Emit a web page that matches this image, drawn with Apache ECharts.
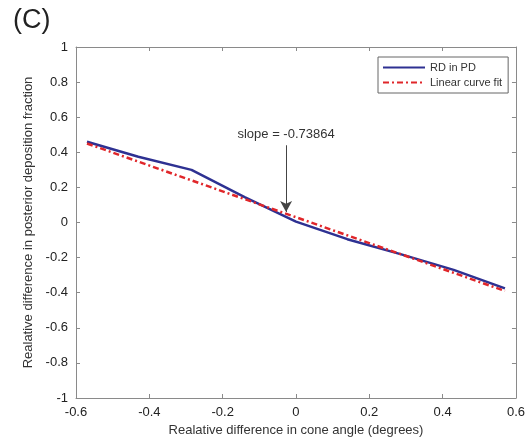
<!DOCTYPE html>
<html>
<head>
<meta charset="utf-8">
<script src="https://cdn.jsdelivr.net/npm/echarts@6/dist/echarts.min.js"></script>
<style>
  html, body { margin: 0; padding: 0; background: #fff; }
  #chart { width: 528px; height: 442px; }
</style>
</head>
<body>
<div id="chart"></div>
<script>
// values
const rdX = [-0.57, -0.43, -0.285, -0.14, 0, 0.14, 0.285, 0.43, 0.57];
const rdY = [0.46, 0.375, 0.3, 0.145, 0.005, -0.095, -0.18, -0.27, -0.375];
const fitX = [-0.57, 0.57];
const fitY = [0.45, -0.39];
const slopeLabel = 'slope = -0.73864';
const arrowFrom = [-0.027, 0.44];
const arrowTo = [-0.027, 0.06];

const zip = (xs, ys) => xs.map((x, i) => [x, ys[i]]);

const font = 'Liberation Sans, Arial, sans-serif';
const axisGrey = '#8a8a8a';

const chart = echarts.init(document.getElementById('chart'));

const baseAxis = {
    axisLine: { show: true, onZero: false, lineStyle: { color: axisGrey, width: 1 } },
    axisTick: { show: true, inside: true, length: 4, lineStyle: { color: axisGrey } },
    splitLine: { show: false },
};

chart.setOption({
    animation: false,
    title: {
        text: '(C)',
        left: 8,
        top: 2,
        textStyle: { fontFamily: font, fontSize: 27, fontWeight: 'normal', color: '#222' }
    },
    grid: { left: 76, right: 8, top: 47, bottom: 43 },
    legend: {
        orient: 'vertical',
        left: 378,
        top: 57,
        padding: [5, 6, 5, 4],
        itemGap: 4,
        itemWidth: 42,
        itemHeight: 10,
        backgroundColor: '#fff',
        borderColor: '#666',
        borderWidth: 1,
        borderRadius: 0,
        itemStyle: { opacity: 0 },
        textStyle: { fontFamily: font, fontSize: 11, color: '#333' },
        data: ['RD in PD', 'Linear curve fit']
    },
    xAxis: [
        Object.assign({}, baseAxis, {
            type: 'value',
            min: -0.6,
            max: 0.6,
            interval: 0.2,
            name: 'Realative difference in cone angle (degrees)',
            nameLocation: 'middle',
            nameGap: 26,
            nameTextStyle: { fontFamily: font, fontSize: 13, color: '#333' },
            axisLabel: { fontFamily: font, fontSize: 13, color: '#222', margin: 8 }
        }),
        Object.assign({}, baseAxis, {
            type: 'value',
            position: 'top',
            min: -0.6,
            max: 0.6,
            interval: 0.2,
            axisLabel: { show: false }
        })
    ],
    yAxis: [
        Object.assign({}, baseAxis, {
            type: 'value',
            min: -1,
            max: 1,
            interval: 0.2,
            name: 'Realative difference in posterior deposition fraction',
            nameLocation: 'middle',
            nameGap: 38,
            nameTextStyle: { fontFamily: font, fontSize: 13, color: '#333' },
            axisLabel: { fontFamily: font, fontSize: 13, color: '#222', margin: 8 }
        }),
        Object.assign({}, baseAxis, {
            type: 'value',
            position: 'right',
            min: -1,
            max: 1,
            interval: 0.2,
            axisLabel: { show: false }
        })
    ],
    series: [
        {
            name: 'RD in PD',
            type: 'line',
            data: zip(rdX, rdY),
            symbol: 'none',
            lineStyle: { color: '#2e3192', width: 2.5 },
            itemStyle: { color: '#2e3192' }
        },
        {
            name: 'Linear curve fit',
            type: 'line',
            data: zip(fitX, fitY),
            symbol: 'none',
            lineStyle: { color: '#e0262a', width: 2.5, type: [6, 3, 2, 3] },
            itemStyle: { color: '#e0262a' },
            markLine: {
                silent: true,
                symbol: ['none', 'arrow'],
                symbolSize: [9, 11],
                lineStyle: { color: '#444', width: 1, type: 'solid' },
                label: {
                    show: true,
                    position: 'start',
                    distance: 4,
                    formatter: slopeLabel,
                    fontFamily: font,
                    fontSize: 13,
                    color: '#333'
                },
                data: [[{ coord: arrowFrom }, { coord: arrowTo }]]
            }
        }
    ]
});
</script>
</body>
</html>
